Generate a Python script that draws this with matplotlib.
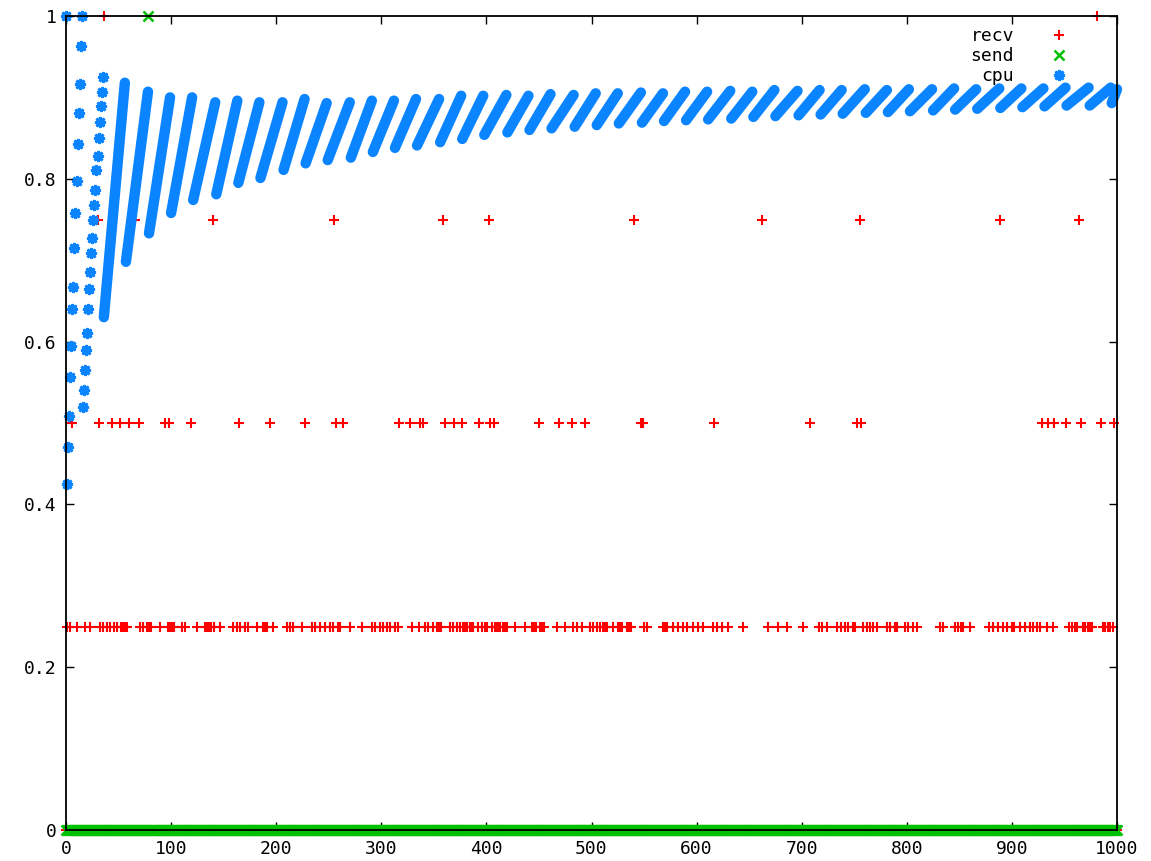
import numpy as np
import matplotlib.pyplot as plt
from matplotlib.lines import Line2D

plt.rcParams['font.family'] = ['DejaVu Sans Mono']

N = 1001  # samples 0..1000

# recv: sample indices at each non-zero level (all other samples are 0)
recv_100 = [36, 981]
recv_075 = [30, 66, 140, 255, 359, 402, 540, 662, 755, 889, 964]
recv_050 = [6, 31, 44, 51, 60, 69, 94, 98, 119, 165, 194, 227, 257, 264, 317, 327,
            337, 340, 361, 369, 377, 393, 403, 407, 450, 469, 481, 494, 547, 549,
            617, 708, 753, 756, 929, 934, 940, 951, 966, 985, 997]
recv_025 = [1, 4, 10, 18, 23, 32, 35, 39, 42, 46, 49, 52, 54, 56, 58, 70, 73, 77, 79,
            81, 89, 97, 99, 101, 103, 110, 113, 125, 132, 134, 136, 138, 141, 147,
            159, 163, 166, 170, 173, 182, 187, 189, 191, 197, 210, 213, 216, 225,
            234, 237, 242, 246, 251, 254, 259, 261, 270, 282, 291, 294, 299, 302,
            305, 308, 313, 316, 329, 336, 342, 344, 349, 353, 355, 357, 359, 365,
            368, 372, 375, 378, 380, 382, 384, 386, 387, 392, 396, 399, 401, 405,
            408, 409, 411, 413, 416, 418, 420, 427, 437, 443, 445, 447, 451, 453,
            455, 467, 475, 482, 486, 491, 499, 501, 505, 508, 511, 513, 515, 520,
            525, 527, 529, 534, 536, 538, 550, 553, 568, 570, 572, 578, 582, 587,
            591, 597, 601, 606, 616, 619, 624, 630, 644, 668, 677, 686, 701, 716,
            719, 724, 734, 737, 741, 744, 749, 751, 758, 762, 765, 768, 772, 781,
            784, 789, 791, 798, 801, 806, 810, 832, 834, 846, 849, 852, 853, 860,
            878, 882, 887, 892, 895, 900, 902, 908, 912, 917, 920, 924, 927, 933,
            939, 954, 957, 960, 962, 968, 970, 972, 974, 976, 981, 987, 989, 991,
            993, 996]

# send: idle except one sample
send_spike = [78]

# cpu: first two ramps, one value per sample (samples 0..35)
cpu_head = [1.0, 0.425, 0.47, 0.509, 0.556, 0.595, 0.64, 0.667, 0.715, 0.758,
            0.797, 0.843, 0.881, 0.916, 0.963, 1.0,
            0.52, 0.54, 0.565, 0.59, 0.61, 0.64, 0.665, 0.685, 0.709, 0.727,
            0.749, 0.768, 0.786, 0.811, 0.828, 0.85, 0.87, 0.889, 0.907, 0.925]

# cpu: remaining ramps (first sample, last sample, value at start, value at end)
ramp_start = [36, 57, 79, 100, 121, 143, 164, 185, 207, 228, 249, 271, 292, 313,
              334, 356, 377, 398, 420, 441, 462, 484, 505, 526, 548, 569, 590,
              611, 633, 654, 675, 697, 718, 739, 761, 782, 803, 825, 846, 867,
              889, 910, 931, 952, 974, 995]
ramp_end = [56, 78, 99, 120, 142, 163, 184, 206, 227, 248, 270, 291, 312, 333,
            355, 376, 397, 419, 440, 461, 483, 504, 525, 547, 568, 589, 610, 632,
            653, 674, 696, 717, 738, 760, 781, 802, 824, 845, 866, 888, 909, 930,
            951, 973, 994, 1000]
ramp_low = [0.63, 0.698, 0.733, 0.758, 0.774, 0.781, 0.795, 0.801, 0.811, 0.819,
            0.823, 0.826, 0.833, 0.838, 0.841, 0.845, 0.849, 0.854, 0.857, 0.86,
            0.862, 0.864, 0.866, 0.868, 0.869, 0.871, 0.872, 0.873, 0.874, 0.876,
            0.877, 0.878, 0.879, 0.88, 0.881, 0.882, 0.883, 0.884, 0.885, 0.886,
            0.887, 0.888, 0.889, 0.89, 0.89, 0.893]
ramp_high = [0.918, 0.907, 0.9, 0.9, 0.894, 0.896, 0.894, 0.894, 0.898, 0.893,
             0.894, 0.896, 0.896, 0.898, 0.898, 0.902, 0.902, 0.903, 0.902, 0.904,
             0.903, 0.905, 0.905, 0.906, 0.905, 0.907, 0.907, 0.908, 0.907, 0.909,
             0.908, 0.909, 0.909, 0.91, 0.909, 0.91, 0.91, 0.911, 0.91, 0.911,
             0.911, 0.911, 0.912, 0.912, 0.912, 0.91]

RED = '#ff0000'
GREEN = '#00c000'
BLUE = '#0a84ff'
STAR = (8, 2, 0)  # asterisk: plus and cross combined

x = np.arange(N)
recv = np.zeros(N)
recv[recv_025] = 0.25
recv[recv_050] = 0.5
recv[recv_075] = 0.75
recv[recv_100] = 1.0
send = np.zeros(N)
send[send_spike] = 1.0

fig = plt.figure(figsize=(11.51, 8.61), dpi=100)
ax = fig.add_axes([66 / 1151, 1 - 830 / 861, (1117 - 66) / 1151, (830 - 16) / 861])

ax.plot(x, recv, ls='none', marker='+', ms=7.5, mew=1.5, color=RED,
        clip_on=False, zorder=2)
ax.plot(x, send, ls='none', marker='x', ms=6.5, mew=1.8, color=GREEN,
        clip_on=False, zorder=3)
ax.plot(np.arange(len(cpu_head)), cpu_head, ls='none', marker=STAR, ms=8,
        mew=2, color=BLUE, clip_on=False, zorder=4)
for s, e, lo, hi in zip(ramp_start, ramp_end, ramp_low, ramp_high):
    ax.plot([s, e], [lo, hi], color=BLUE, lw=7.5, solid_capstyle='round',
            clip_on=False, zorder=4)

ax.set_xlim(0, 1000)
ax.set_ylim(0, 1)
ax.set_xticks(np.arange(0, 1001, 100))
ax.set_yticks([0, 0.2, 0.4, 0.6, 0.8, 1])
ax.set_yticklabels(['0', '0.2', '0.4', '0.6', '0.8', '1'])
ax.tick_params(direction='in', length=6, width=1, top=True, right=True,
               labelsize=13, pad=7)
for sp in ax.spines.values():
    sp.set_linewidth(1.3)
    sp.set_zorder(10)

handles = [Line2D([], [], ls='none', marker='+', ms=7.5, mew=1.5, color=RED),
           Line2D([], [], ls='none', marker='x', ms=6.5, mew=1.8, color=GREEN),
           Line2D([], [], ls='none', marker=STAR, ms=8, mew=2, color=BLUE)]
ax.legend(handles, ['recv', 'send', 'cpu'], markerfirst=False, frameon=False,
          fontsize=13, handlelength=1.2, handletextpad=1.9, labelspacing=0.12,
          borderpad=0, borderaxespad=0, loc='upper right',
          bbox_to_anchor=(1070 / 1151, 1 - 27 / 861),
          bbox_transform=fig.transFigure)

fig.savefig('out.png', dpi=100)
